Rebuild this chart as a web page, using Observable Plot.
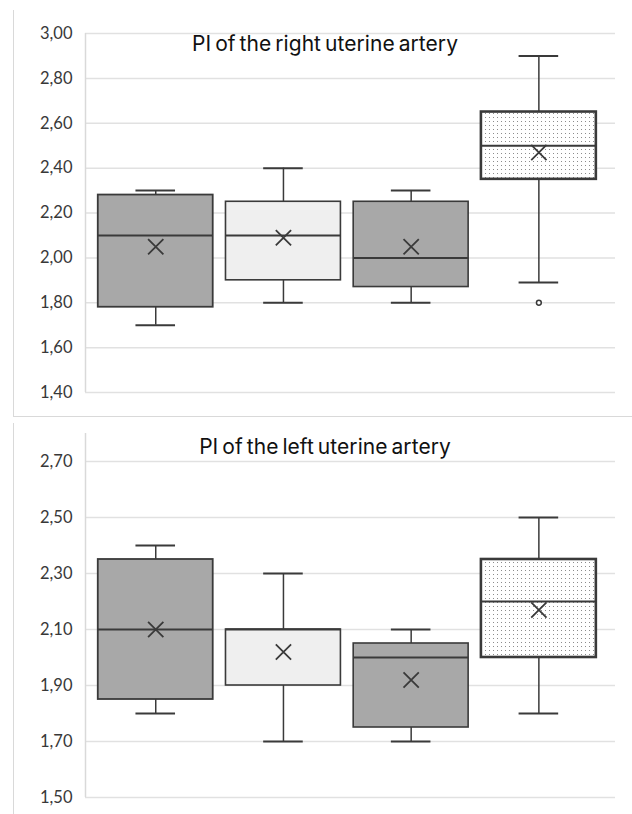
<!DOCTYPE html>
<html>
<head>
<meta charset="utf-8">
<script src="https://cdn.jsdelivr.net/npm/d3@7"></script>
<script src="https://cdn.jsdelivr.net/npm/@observablehq/plot@0.6"></script>
<style>
  html, body { margin: 0; padding: 0; background: #fff; }
  body { width: 632px; height: 814px; position: relative; overflow: hidden; font-family: "Liberation Sans", Arial, sans-serif; }
  .panel { position: absolute; left: 0; width: 632px; }
  .title { position: absolute; font-family: Inter, "Liberation Sans", sans-serif; font-size: 21px; line-height: 1; word-spacing: -2px; color: #111; white-space: nowrap; transform: translateX(-50%); }
  .vline { position: absolute; left: 13px; width: 0; border-left: 1.5px solid #d9d9d9; }
  .hline { position: absolute; left: 13px; right: 0; height: 0; border-top: 1.5px solid #d9d9d9; }
</style>
</head>
<body>
<div class="vline" style="top:10px;height:407px"></div>
<div class="hline" style="top:416px"></div>
<div class="vline" style="top:423px;height:391px"></div>
<div id="top" class="panel" style="top:0"></div>
<div id="bottom" class="panel" style="top:417px"></div>
<div id="t1" class="title" style="left:325px;top:33px">PI of the right uterine artery</div>
<div id="t2" class="title" style="left:325px;top:436px">PI of the left uterine artery</div>
<script>
// ---- data ----
const groups = ["Group 1", "Group 2", "Group 3", "Group 4"];

// Right uterine artery PI
const rightMin    = [1.70, 1.80, 1.80, 1.89];
const rightQ1     = [1.78, 1.90, 1.87, 2.35];
const rightMedian = [2.10, 2.10, 2.00, 2.50];
const rightQ3     = [2.28, 2.25, 2.25, 2.65];
const rightMax    = [2.30, 2.40, 2.30, 2.90];
const rightMean   = [2.05, 2.09, 2.05, 2.47];
const rightOutlierGroup = ["Group 4"];
const rightOutlierValue = [1.80];
const rightTicks = [1.40, 1.60, 1.80, 2.00, 2.20, 2.40, 2.60, 2.80, 3.00];

// Left uterine artery PI
const leftMin    = [1.80, 1.70, 1.70, 1.80];
const leftQ1     = [1.85, 1.90, 1.75, 2.00];
const leftMedian = [2.10, 2.10, 2.00, 2.20];
const leftQ3     = [2.35, 2.10, 2.05, 2.35];
const leftMax    = [2.40, 2.30, 2.10, 2.50];
const leftMean   = [2.10, 2.02, 1.92, 2.17];
const leftOutlierGroup = [];
const leftOutlierValue = [];
const leftTicks = [1.50, 1.70, 1.90, 2.10, 2.30, 2.50, 2.70];

// ---- styles (separate from data) ----
const boxFill = {"Group 1": "#a8a8a8", "Group 2": "#efefef", "Group 3": "#a8a8a8", "Group 4": "url(#PATTERN)"};
const boxStrokeWidth = {"Group 1": 1.8, "Group 2": 1.6, "Group 3": 1.6, "Group 4": 2.6};
const ink = "#3a3a3a";
const fmt = d => d.toFixed(2).replace(".", ",");

function makePanel({min, q1, median, q3, max, mean, outG, outV, ticks, yDomain, height, marginTop, marginBottom, patternId}) {
  const xDomain = [0.45, 4.6];
  const idx = g => groups.indexOf(g) + 1;
  const rows = groups.map((g, i) => ({
    g, x: i + 1, min: min[i], q1: q1[i], median: median[i], q3: q3[i], max: max[i], mean: mean[i],
    fill: boxFill[g].replace("PATTERN", patternId), sw: boxStrokeWidth[g]
  }));
  const outliers = outG.map((g, i) => ({x: idx(g), v: outV[i]}));
  const half = 0.45, cap = 0.155;
  const svg = Plot.plot({
    width: 632, height, marginLeft: 85, marginRight: 17, marginTop, marginBottom,
    style: {fontFamily: "Lato, 'Open Sans', sans-serif", fontSize: "16px", color: "#383838", background: "transparent"},
    x: {domain: xDomain, axis: null},
    y: {domain: yDomain, axis: null},
    color: {type: "identity"},
    marks: [
      Plot.ruleY(ticks, {stroke: "#e1e1e1", strokeWidth: 1.5}),
      Plot.ruleX([xDomain[0]], {stroke: "#d9d9d9", strokeWidth: 1.5}),
      Plot.axisY({ticks, tickSize: 0, tickPadding: 13, tickFormat: fmt, fontSize: 16.5}),
      // whiskers
      Plot.ruleX(rows, {x: "x", y1: "min", y2: "max", stroke: ink, strokeWidth: 1.5}),
      Plot.ruleY(rows, {y: "max", x1: d => d.x - cap, x2: d => d.x + cap, stroke: ink, strokeWidth: 2}),
      Plot.ruleY(rows, {y: "min", x1: d => d.x - cap, x2: d => d.x + cap, stroke: ink, strokeWidth: 2}),
      // boxes
      Plot.rect(rows, {x1: d => d.x - half, x2: d => d.x + half, y1: "q1", y2: "q3", fill: "fill", stroke: ink, strokeWidth: "sw"}),
      // medians
      Plot.ruleY(rows, {y: "median", x1: d => d.x - half, x2: d => d.x + half, stroke: ink, strokeWidth: 2}),
      // means
      Plot.dot(rows, {x: "x", y: "mean", symbol: "times", r: 7, stroke: ink, strokeWidth: 1.8}),
      // outliers
      Plot.dot(outliers, {x: "x", y: "v", r: 2.4, stroke: ink, fill: "#fff", strokeWidth: 1.5})
    ]
  });
  // dotted fill pattern
  const defs = d3.select(svg).insert("defs", ":first-child");
  const p = defs.append("pattern").attr("id", patternId).attr("patternUnits", "userSpaceOnUse")
    .attr("width", 4).attr("height", 4);
  p.append("rect").attr("width", 4).attr("height", 4).attr("fill", "#ffffff");
  p.append("rect").attr("x", 1).attr("y", 1).attr("width", 1).attr("height", 1).attr("fill", "#8c8c8c");
  return svg;
}

document.getElementById("top").appendChild(makePanel({
  min: rightMin, q1: rightQ1, median: rightMedian, q3: rightQ3, max: rightMax, mean: rightMean,
  outG: rightOutlierGroup, outV: rightOutlierValue, ticks: rightTicks, yDomain: [1.4, 3.0],
  height: 417, marginTop: 33, marginBottom: 25, patternId: "dotsTop"
}));
document.getElementById("bottom").appendChild(makePanel({
  min: leftMin, q1: leftQ1, median: leftMedian, q3: leftQ3, max: leftMax, mean: leftMean,
  outG: leftOutlierGroup, outV: leftOutlierValue, ticks: leftTicks, yDomain: [1.5, 2.8],
  height: 397, marginTop: 16, marginBottom: 17, patternId: "dotsBottom"
}));

// fit the top title to the reference's measured width and reuse that spacing for both titles
const t1 = document.getElementById("t1"), t2 = document.getElementById("t2");
const targetWidth = 266;
const natural = t1.getBoundingClientRect().width;
const ls = (targetWidth - natural) / t1.textContent.length;
t1.style.letterSpacing = ls + "px";
t2.style.letterSpacing = ls + "px";
</script>
</body>
</html>
